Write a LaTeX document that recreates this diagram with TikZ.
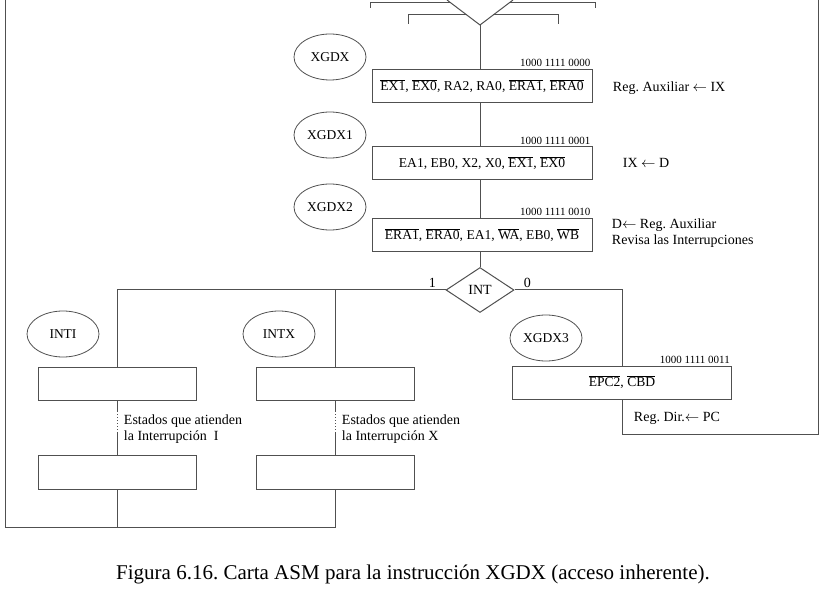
\documentclass[tikz,border=0pt]{standalone}
\usepackage{fontspec}
\setmainfont{Liberation Serif}
\usetikzlibrary{shapes.geometric}
\definecolor{linea}{RGB}{80,80,80}
\newcommand{\negado}[1]{$\overline{\mbox{#1}}$}
\frenchspacing
\tikzset{
  conector/.style={draw=linea, line width=1pt},
  estado/.style={conector, rectangle, minimum height=33pt, inner sep=0pt, font=\fontsize{13.6}{16}\selectfont},
  nombre/.style={draw=linea, line width=0.8pt, ellipse, minimum width=72pt, minimum height=46pt, inner sep=0pt, font=\fontsize{13.5}{15}\selectfont},
  decision/.style={conector, diamond, minimum width=68pt, minimum height=45pt, inner sep=0pt, font=\fontsize{14}{16}\selectfont},
  codigo/.style={anchor=south east, inner sep=2pt, font=\fontsize{11}{13}\selectfont},
  nota/.style={anchor=west, inner sep=0.75pt, align=left, font=\fontsize{14}{16}\selectfont},
}
\begin{document}
\begin{tikzpicture}[x=1pt,y=1pt,yscale=-1,xscale=1]
	\useasboundingbox (0,0) rectangle (837,593);
	
	%Shape: Rectangle (states)
	\node[estado, minimum width=220pt] (xgdx) at (482,86) {\negado{EX1}, \negado{EX0}, RA2, RA0, \negado{ERA1}, \negado{ERA0}};
	\node[estado, minimum width=220pt] (xgdx1) at (482,163.5) {EA1, EB0, X2, X0, \negado{EX1}, \negado{EX0}};
	\node[estado, minimum width=220pt] (xgdx2) at (482,235) {\negado{ERA1}, \negado{ERA0}, EA1, \negado{WA}, EB0, \negado{WB}};
	\node[estado, minimum width=219pt] (xgdx3) at (622,382.5) {\negado{EPC2}, \negado{CBD}};
	\node[estado, minimum width=158pt] (inti1) at (117,384) {};
	\node[estado, minimum width=158pt, minimum height=34pt] (inti2) at (117,472) {};
	\node[estado, minimum width=158pt] (intx1) at (335,384) {};
	\node[estado, minimum width=158pt, minimum height=34pt] (intx2) at (335,472) {};
	
	%Shape: Diamond
	\node[decision] (int) at (480,290) {INT};
	
	%Shape: Ellipse (state names)
	\node[nombre] (n0) at (330,57) {XGDX};
	\node[nombre] (n1) at (330,135) {XGDX1};
	\node[nombre] (n2) at (330,207) {XGDX2};
	\node[nombre] (n3) at (546,338) {XGDX3};
	\node[nombre] (ni) at (63,334) {INTI};
	\node[nombre] (nx) at (279,334) {INTX};
	
	%Straight Lines (coming in from above)
	\coordinate (v0) at (480,25);
	\draw[conector] (447,0) -- (v0) -- (513,0);
	\draw[conector] (370,8) -- (370,3) -- (451,3);
	\draw[conector] (509,3) -- (595,3) -- (595,8);
	\draw[conector] (408,24) -- (408,15) -- (467,15);
	\draw[conector] (493,15) -- (558,15) -- (558,24);
	
	%Straight Lines (main path)
	\draw[conector] (v0) -- (v0 |- xgdx.north);
	\draw[conector] (v0 |- xgdx.south) -- (v0 |- xgdx1.north);
	\draw[conector] (v0 |- xgdx1.south) -- (v0 |- xgdx2.north);
	\draw[conector] (v0 |- xgdx2.south) -- (int.north);
	
	%Straight Lines (branches)
	\draw[conector] (int.west) -| (inti1.north);
	\draw[conector] (intx1.north) -- (intx1.north |- int.west);
	\draw[conector] (int.east) -| (xgdx3.north);
	\draw[conector] (xgdx3.south) |- (818,434) -- (818,0);
	\coordinate (fin) at (5,527);
	\draw[conector] (intx2.south) |- (fin) -- (5,0);
	\draw[conector] (inti2.south) -- (inti2.south |- fin);
	
	%Straight Lines (interrupt states)
	\draw[conector] (inti1.south) -- ++(0,10) coordinate (i1a);
	\draw[conector, dotted] (i1a) -- ++(0,22) coordinate (i1b);
	\draw[conector] (i1b) -- (inti2.north);
	\draw[conector] (intx1.south) -- ++(0,10) coordinate (x1a);
	\draw[conector, dotted] (x1a) -- ++(0,22) coordinate (x1b);
	\draw[conector] (x1b) -- (intx2.north);
	
	% Text Node
	\node[codigo] (c0) at (xgdx.north east) {1000 1111 0000};
	% Text Node
	\node[codigo] (c1) at (xgdx1.north east) {1000 1111 0001};
	% Text Node
	\node[codigo] (c2) at (xgdx2.north east) {1000 1111 0010};
	% Text Node
	\node[codigo] (c3) at (xgdx3.north east) {1000 1111 0011};
	% Text Node
	\node[nota] (r0) at (612,88) {Reg. Auxiliar $\leftarrow$ IX};
	% Text Node
	\node[nota] (r1) at (622,163) {IX $\leftarrow$ D};
	% Text Node
	\node[nota, anchor=north west] (r2) at (611,218) {D$\leftarrow$ Reg. Auxiliar\\Revisa las Interrupciones};
	% Text Node
	\node[nota] (r3) at (633,418) {Reg. Dir.$\leftarrow$ PC};
	% Text Node
	\node[nota, anchor=north west] (t1) at (123,414) {Estados que atienden\\la Interrupción~ I};
	% Text Node
	\node[nota, anchor=north west] (t2) at (341,414) {Estados que atienden\\la Interrupción X};
	% Text Node
	\node[nota] (uno) at (428,283) {1};
	% Text Node
	\node[nota] (cero) at (523,283) {0};
	% Text Node
	\node[font=\fontsize{21}{25}\selectfont] (titulo) at (413,574) {Figura 6.16. Carta ASM para la instrucción XGDX (acceso inherente).};
	
\end{tikzpicture}
\end{document}
